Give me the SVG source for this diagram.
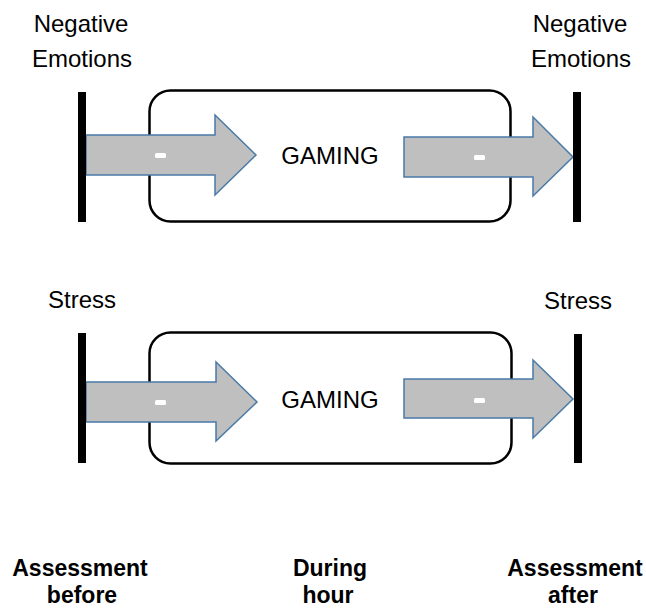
<svg xmlns="http://www.w3.org/2000/svg" width="646" height="614" viewBox="0 0 646 614">
<style>
.lbl{font-family:"Liberation Sans",Arial,sans-serif;font-size:24px;fill:#000;text-anchor:middle}
.bold{font-weight:bold;font-size:23px}
.box{fill:#fff;stroke:#000;stroke-width:2.5}
.arrow{fill:#bfbfbf;stroke:#4a7aa8;stroke-width:1.5;stroke-linejoin:miter}
.bar{fill:#000}
.minus{fill:#fff}
</style>
<rect width="646" height="614" fill="#fff"/>
<g id="box-top"><rect class="box" x="149.5" y="90.5" width="361" height="131" rx="21"/><text class="lbl" x="330" y="164">GAMING</text></g>
<g id="box-bottom"><rect class="box" x="149.5" y="332.5" width="362" height="131" rx="21"/><text class="lbl" x="330" y="408">GAMING</text></g>
<g id="connectors">
<path class="arrow" d="M86,135 H215 V115 L256,155 L215,195 V175 H86 Z"/>
<rect class="minus" x="155" y="153" width="11" height="5" rx="1.5"/>
<path class="arrow" d="M404,137 H533 V117 L573,157 L533,196 V177 H404 Z"/>
<rect class="minus" x="474" y="155" width="11" height="5" rx="1.5"/>
<path class="arrow" d="M86,382 H216 V362 L257,402 L216,441 V422 H86 Z"/>
<rect class="minus" x="155" y="400" width="11" height="5" rx="1.5"/>
<path class="arrow" d="M404,379 H533 V360 L573,399 L533,438 V418 H404 Z"/>
<rect class="minus" x="474" y="398" width="11" height="5" rx="1.5"/>
</g>
<g id="before-neg"><rect class="bar" x="78" y="92" width="8" height="130"/><text class="lbl" x="81" y="32">Negative</text><text class="lbl" x="82" y="67">Emotions</text></g>
<g id="after-neg"><rect class="bar" x="573" y="92" width="8" height="130"/><text class="lbl" x="580" y="32">Negative</text><text class="lbl" x="581" y="67">Emotions</text></g>
<g id="before-stress"><rect class="bar" x="78" y="333" width="8" height="130"/><text class="lbl" x="82" y="308">Stress</text></g>
<g id="after-stress"><rect class="bar" x="574" y="334" width="8" height="129"/><text class="lbl" x="578" y="309">Stress</text></g>
<g id="axis-labels">
<text class="lbl bold" x="80" y="576">Assessment</text><text class="lbl bold" x="82" y="603">before</text>
<text class="lbl bold" x="330" y="576">During</text><text class="lbl bold" x="328" y="603">hour</text>
<text class="lbl bold" x="575" y="576">Assessment</text><text class="lbl bold" x="573" y="603">after</text>
</g>
</svg>
